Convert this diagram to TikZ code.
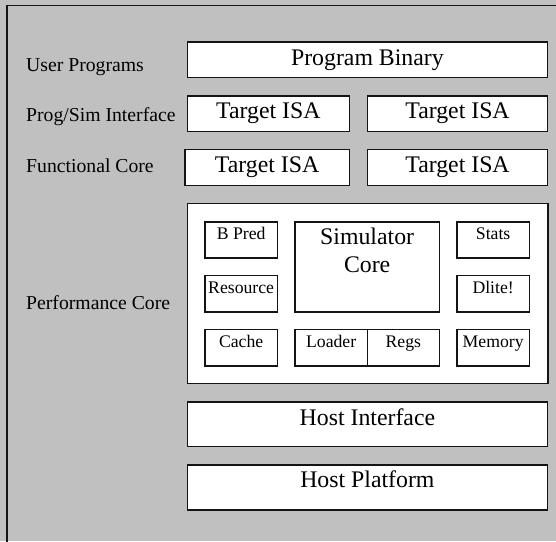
\documentclass[tikz,border=0pt]{standalone}
\usepackage{fontspec}
\setmainfont{Liberation Serif}
\usetikzlibrary{fit}
\definecolor{panelgray}{HTML}{C0C0C0}
\definecolor{edge}{HTML}{141414}
\begin{document}
\begin{tikzpicture}[x=1pt,y=-1pt,
  blk/.style={draw=edge, line width=1.6pt, fill=white, inner sep=0pt},
  bigtxt/.style={anchor=base, inner sep=0pt, font=\fontsize{23.8}{28}\selectfont},
  smalltxt/.style={anchor=base, inner sep=0pt, font=\fontsize{17.7}{20}\selectfont},
  sidetxt/.style={anchor=base west, inner sep=0pt, font=\fontsize{19.7}{22}\selectfont}]
  % canvas and frame
  \fill[panelgray] (0,0) rectangle (556,541);
  \useasboundingbox (0,0) rectangle (556,541);
  \draw[edge, line width=1.8pt] (7,545) -- (7,5.5) -- (560,5.5);

  % layer labels
  \node[sidetxt] (lUser) at (26,71) {User Programs};
  \node[sidetxt] (lProg) at (26,121.7) {Prog/Sim Interface};
  \node[sidetxt] (lFunc) at (26,172.3) {Functional Core};
  \node[sidetxt] (lPerf) at (26,309) {Performance Core};

  % upper layers
  \node[blk, fit={(187.3,41.7) (547.5,77.3)}] (pb) {};
  \node[bigtxt] (pbT) at (pb.center |- 0,65) {Program Binary};
  \node[blk, fit={(187.3,95.7) (349.3,131.5)}] (isaA) {};
  \node[bigtxt] (isaAT) at (isaA.center |- 0,118.3) {Target ISA};
  \node[blk, fit={(367.5,95.7) (547.5,131.5)}] (isaB) {};
  \node[bigtxt] (isaBT) at (isaB.center |- 0,118.3) {Target ISA};
  \node[blk, fit={(185,149.3) (349.3,185.5)}] (isaC) {};
  \node[bigtxt] (isaCT) at (isaC.center |- 0,172.7) {Target ISA};
  \node[blk, fit={(367.5,149.3) (547.5,185.5)}] (isaD) {};
  \node[bigtxt] (isaDT) at (isaD.center |- 0,172.7) {Target ISA};

  % performance core
  \node[blk, fit={(187.3,203.3) (548,383.5)}] (perf) {};
  \node[blk, fit={(205,221.7) (277.3,257.7)}] (bpred) {};
  \node[smalltxt] (bpredT) at (bpred.center |- 0,239) {B Pred};
  \node[blk, fit={(205,275.3) (277.3,311.7)}] (res) {};
  \node[smalltxt] (resT) at (res.center |- 0,293.3) {Resource};
  \node[blk, fit={(205,329.3) (277.3,365.7)}] (cache) {};
  \node[smalltxt] (cacheT) at (cache.center |- 0,347.3) {Cache};
  \node[blk, fit={(295,221.7) (439.3,311.7)}] (sim) {};
  \node[bigtxt] (simT) at (sim.center |- 0,244.3) {Simulator};
  \node[bigtxt] (coreT) at (sim.center |- 0,272.3) {Core};
  \node[blk, fit={(295,329.3) (367.3,365.7)}] (loader) {};
  \node[smalltxt] (loaderT) at (loader.center |- 0,347.3) {Loader};
  \node[blk, fit={(367.3,329.3) (439.3,365.7)}] (regs) {};
  \node[smalltxt] (regsT) at (regs.center |- 0,347.3) {Regs};
  \node[blk, fit={(457,221.7) (529.3,257.7)}] (stats) {};
  \node[smalltxt] (statsT) at (stats.center |- 0,239) {Stats};
  \node[blk, fit={(457,275.3) (529.3,311.7)}] (dlite) {};
  \node[smalltxt] (dliteT) at (dlite.center |- 0,293.3) {Dlite!};
  \node[blk, fit={(457,329.3) (529.3,365.7)}] (mem) {};
  \node[smalltxt] (memT) at (mem.center |- 0,347.3) {Memory};

  % host layers
  \node[blk, fit={(187.3,401.7) (547.5,446.3)}] (hi) {};
  \node[bigtxt] (hiT) at (hi.center |- 0,425) {Host Interface};
  \node[blk, fit={(187.3,465) (547.5,510)}] (hp) {};
  \node[bigtxt] (hpT) at (hp.center |- 0,487.7) {Host Platform};
\end{tikzpicture}
\end{document}
